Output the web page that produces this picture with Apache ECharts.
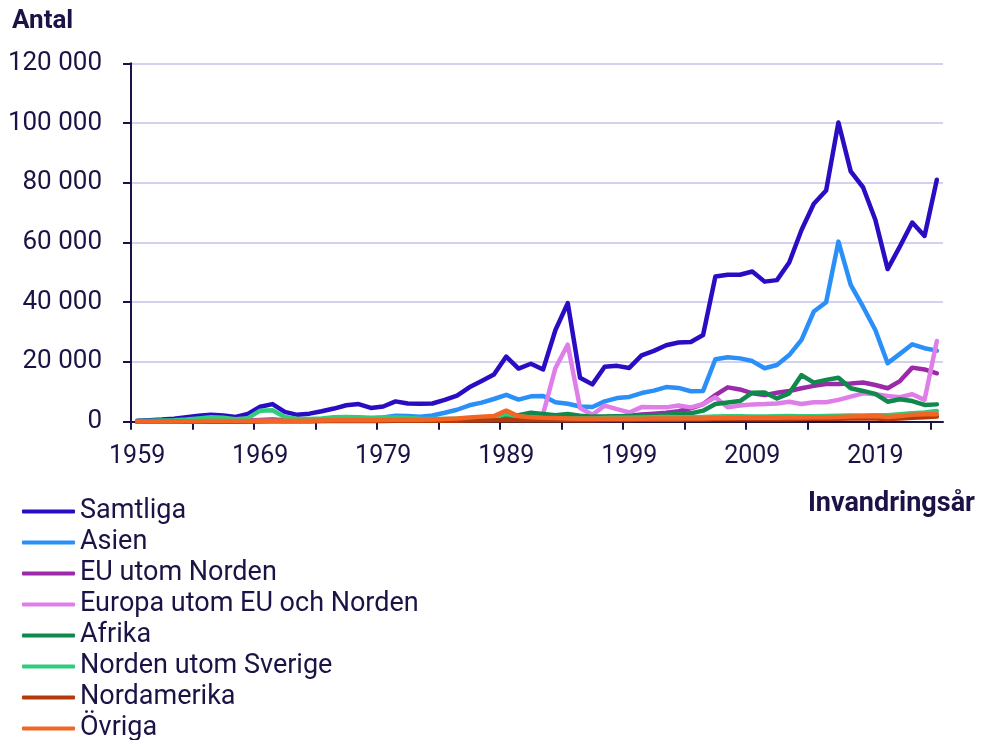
<!DOCTYPE html>
<html>
<head>
<meta charset="utf-8">
<script src="https://cdn.jsdelivr.net/npm/echarts@6/dist/echarts.min.js"></script>
<style>
html,body{margin:0;padding:0;background:#fff;}
#chart{width:981px;height:740px;}
</style>
</head>
<body>
<div id="chart"></div>
<script>
// Years 1959–2024
const years = [];
for (let y = 1959; y <= 2024; y++) years.push(y);

const labelYears = [1959, 1969, 1979, 1989, 1999, 2009, 2019];
const yTicks = [0, 20000, 40000, 60000, 80000, 100000, 120000];

const seriesNames = ["Samtliga", "Asien", "EU utom Norden", "Europa utom EU och Norden", "Afrika", "Norden utom Sverige", "Nordamerika", "Övriga"];

const samtliga = [
  300, 500, 700, 1000, 1500, 2000, 2300, 2100, 1600, 2600,
  5000, 5900, 3300, 2300, 2700, 3500, 4400, 5500, 5900, 4600,
  5100, 6800, 6100, 6000, 6100, 7300, 8700, 11500, 13600, 15800,
  21800, 17800, 19400, 17500, 30700, 39700, 14700, 12500, 18400, 18700,
  18000, 22200, 23700, 25600, 26500, 26700, 29000, 48600, 49200, 49200,
  50300, 46900, 47400, 53300, 64200, 73000, 77400, 100200, 83800, 78500,
  67600, 51100, 58700, 66700, 62200, 81000
];
const asien = [
  50, 60, 80, 100, 120, 150, 180, 200, 220, 250,
  300, 350, 400, 450, 500, 600, 700, 800, 900, 1100,
  1400, 2000, 1900, 1700, 2100, 3000, 4000, 5500, 6400, 7600,
  9000, 7400, 8500, 8600, 6500, 6000, 5100, 4900, 6800, 7900,
  8300, 9600, 10400, 11600, 11300, 10200, 10300, 20900, 21600, 21200,
  20300, 17900, 19000, 22300, 27400, 36900, 40000, 60300, 45800, 38500,
  30700, 19600, 22700, 25900, 24600, 23800
];
const euUtomNorden = [
  100, 150, 200, 250, 300, 400, 500, 450, 350, 400,
  600, 700, 500, 400, 400, 450, 500, 550, 600, 550,
  600, 700, 700, 650, 650, 700, 800, 900, 1000, 1200,
  1700, 1800, 1900, 1700, 1600, 1600, 1500, 1500, 1600, 1700,
  2000, 2400, 2700, 3000, 3500, 4500, 5900, 8900, 11500, 10800,
  9500, 8900, 9700, 10300, 11200, 12000, 12600, 12600, 12800, 13100,
  12300, 11200, 13600, 18100, 17500, 16200
];
const europaUtomEU = [
  50, 50, 60, 80, 100, 150, 200, 200, 150, 200,
  300, 300, 250, 200, 200, 250, 300, 300, 350, 300,
  350, 400, 400, 400, 400, 500, 600, 800, 1000, 1200,
  2000, 2200, 2300, 2600, 18000, 25800, 4600, 2300, 5400, 4200,
  3100, 4900, 4800, 4800, 5400, 4800, 5900, 8200, 4800, 5400,
  5800, 5900, 6100, 6700, 5900, 6500, 6500, 7300, 8400, 9500,
  9200, 8600, 8200, 9200, 7300, 27000
];
const afrika = [
  20, 30, 40, 50, 60, 80, 100, 100, 100, 120,
  150, 200, 200, 200, 250, 300, 300, 350, 400, 400,
  400, 450, 450, 450, 500, 600, 700, 800, 1000, 1300,
  1800, 2200, 3000, 2600, 2200, 2600, 2000, 1700, 1700, 1800,
  1900, 2000, 2200, 2300, 2700, 2800, 3700, 5900, 6400, 6900,
  9700, 9800, 7800, 9500, 15600, 13100, 14000, 14700, 11200, 10300,
  9300, 6700, 7500, 6900, 5600, 5800
];
const nordenUtomSverige = [
  200, 300, 400, 500, 700, 1100, 1500, 1300, 800, 1200,
  3700, 3800, 1600, 1000, 900, 1100, 1500, 1600, 1500, 1300,
  1400, 1400, 1200, 1000, 900, 900, 1000, 1100, 1200, 1500,
  2600, 1800, 1300, 1100, 1000, 1000, 1100, 1100, 1200, 1300,
  1300, 1400, 1500, 1600, 1500, 1500, 1600, 1700, 1800, 1800,
  1700, 1700, 1800, 1900, 1800, 1800, 1900, 2000, 2100, 2100,
  2200, 2200, 2500, 2800, 3100, 3600
];
const nordamerika = [
  50, 50, 60, 60, 70, 80, 100, 100, 100, 100,
  150, 150, 150, 150, 150, 200, 200, 200, 250, 250,
  250, 300, 300, 300, 300, 350, 350, 400, 400, 450,
  500, 500, 500, 500, 500, 500, 500, 500, 550, 550,
  600, 650, 650, 650, 650, 700, 700, 800, 800, 850,
  850, 800, 850, 850, 900, 950, 1000, 1000, 1050, 1100,
  1100, 900, 1100, 1300, 1500, 1700
];
const ovriga = [
  50, 60, 80, 100, 120, 150, 200, 200, 200, 250,
  300, 350, 300, 300, 350, 400, 450, 500, 550, 500,
  550, 650, 650, 650, 700, 900, 1100, 1400, 1700, 1900,
  3700, 1800, 1500, 1300, 1200, 1100, 1000, 1000, 1000, 1000,
  1000, 1000, 1100, 1100, 1100, 1100, 1100, 1200, 1200, 1300,
  1300, 1300, 1300, 1400, 1400, 1500, 1500, 1600, 1700, 1800,
  1900, 1600, 1900, 2300, 2500, 2500
];

const seriesValues = [samtliga, asien, euUtomNorden, europaUtomEU, afrika, nordenUtomSverige, nordamerika, ovriga];
const colors = ['#2a0cc2', '#2a90f8', '#9a2aa8', '#e07ee9', '#0f8a4c', '#2ecc7c', '#b43a0c', '#f26524'];

const textColor = '#1c1245';
const fontFamily = 'Roboto, "Noto Sans", sans-serif';

const tickPositions = [];
for (let y = 1958.5; y < 2024.5; y += 5) tickPositions.push(y);

const chart = echarts.init(document.getElementById('chart'), null, {renderer: 'canvas'});

const fmt = v => String(v).replace(/\B(?=(\d{3})+(?!\d))/g, ' ');

chart.setOption({
  backgroundColor: '#ffffff',
  animation: false,
  color: colors,
  textStyle: {fontFamily: fontFamily, color: textColor},
  title: [
    {text: 'Antal', left: 12, top: 8, padding: 0, textStyle: {fontSize: 26, fontWeight: 'bold', color: textColor, fontFamily: fontFamily}},
    {text: 'Invandringsår', right: 6, top: 491, padding: 0, textStyle: {fontSize: 27, fontWeight: 'bold', color: textColor, fontFamily: fontFamily}}
  ],
  legend: {
    orient: 'vertical',
    left: 22,
    top: 496,
    height: 260,
    padding: 0,
    itemGap: 0,
    itemWidth: 53,
    itemHeight: 4,
    icon: 'roundRect',
    data: seriesNames,
    textStyle: {fontSize: 27, color: textColor, fontFamily: fontFamily, lineHeight: 31, padding: [0, 0, 0, 0]}
  },
  grid: {left: 131, right: 38, top: 63.3, bottom: 318.3, containLabel: false},
  xAxis: {
    type: 'value',
    min: 1958.5,
    max: 2024.5,
    axisLine: {show: true, lineStyle: {color: textColor, width: 2}},
    axisTick: {show: true, length: 8, lineStyle: {color: textColor, width: 2}, customValues: tickPositions},
    axisLabel: {show: true, fontSize: 25, color: textColor, margin: 23, customValues: labelYears, formatter: v => String(Math.round(v))},
    splitLine: {show: false}
  },
  yAxis: {
    type: 'value',
    min: 0,
    max: 120000,
    interval: 20000,
    axisLine: {show: true, lineStyle: {color: textColor, width: 2}},
    axisTick: {show: true, length: 8, lineStyle: {color: textColor, width: 2}},
    axisLabel: {fontSize: 26, color: textColor, margin: 29, formatter: fmt},
    splitLine: {show: true, lineStyle: {color: '#d2d2ee', width: 2}}
  },
  series: seriesNames.map((name, i) => ({
    name: name,
    type: 'line',
    symbol: 'none',
    smooth: false,
    lineStyle: {width: 4.5, color: colors[i], cap: 'round', join: 'round'},
    itemStyle: {color: colors[i]},
    data: years.map((y, j) => [y, seriesValues[i][j]])
  }))
});
</script>
</body>
</html>
